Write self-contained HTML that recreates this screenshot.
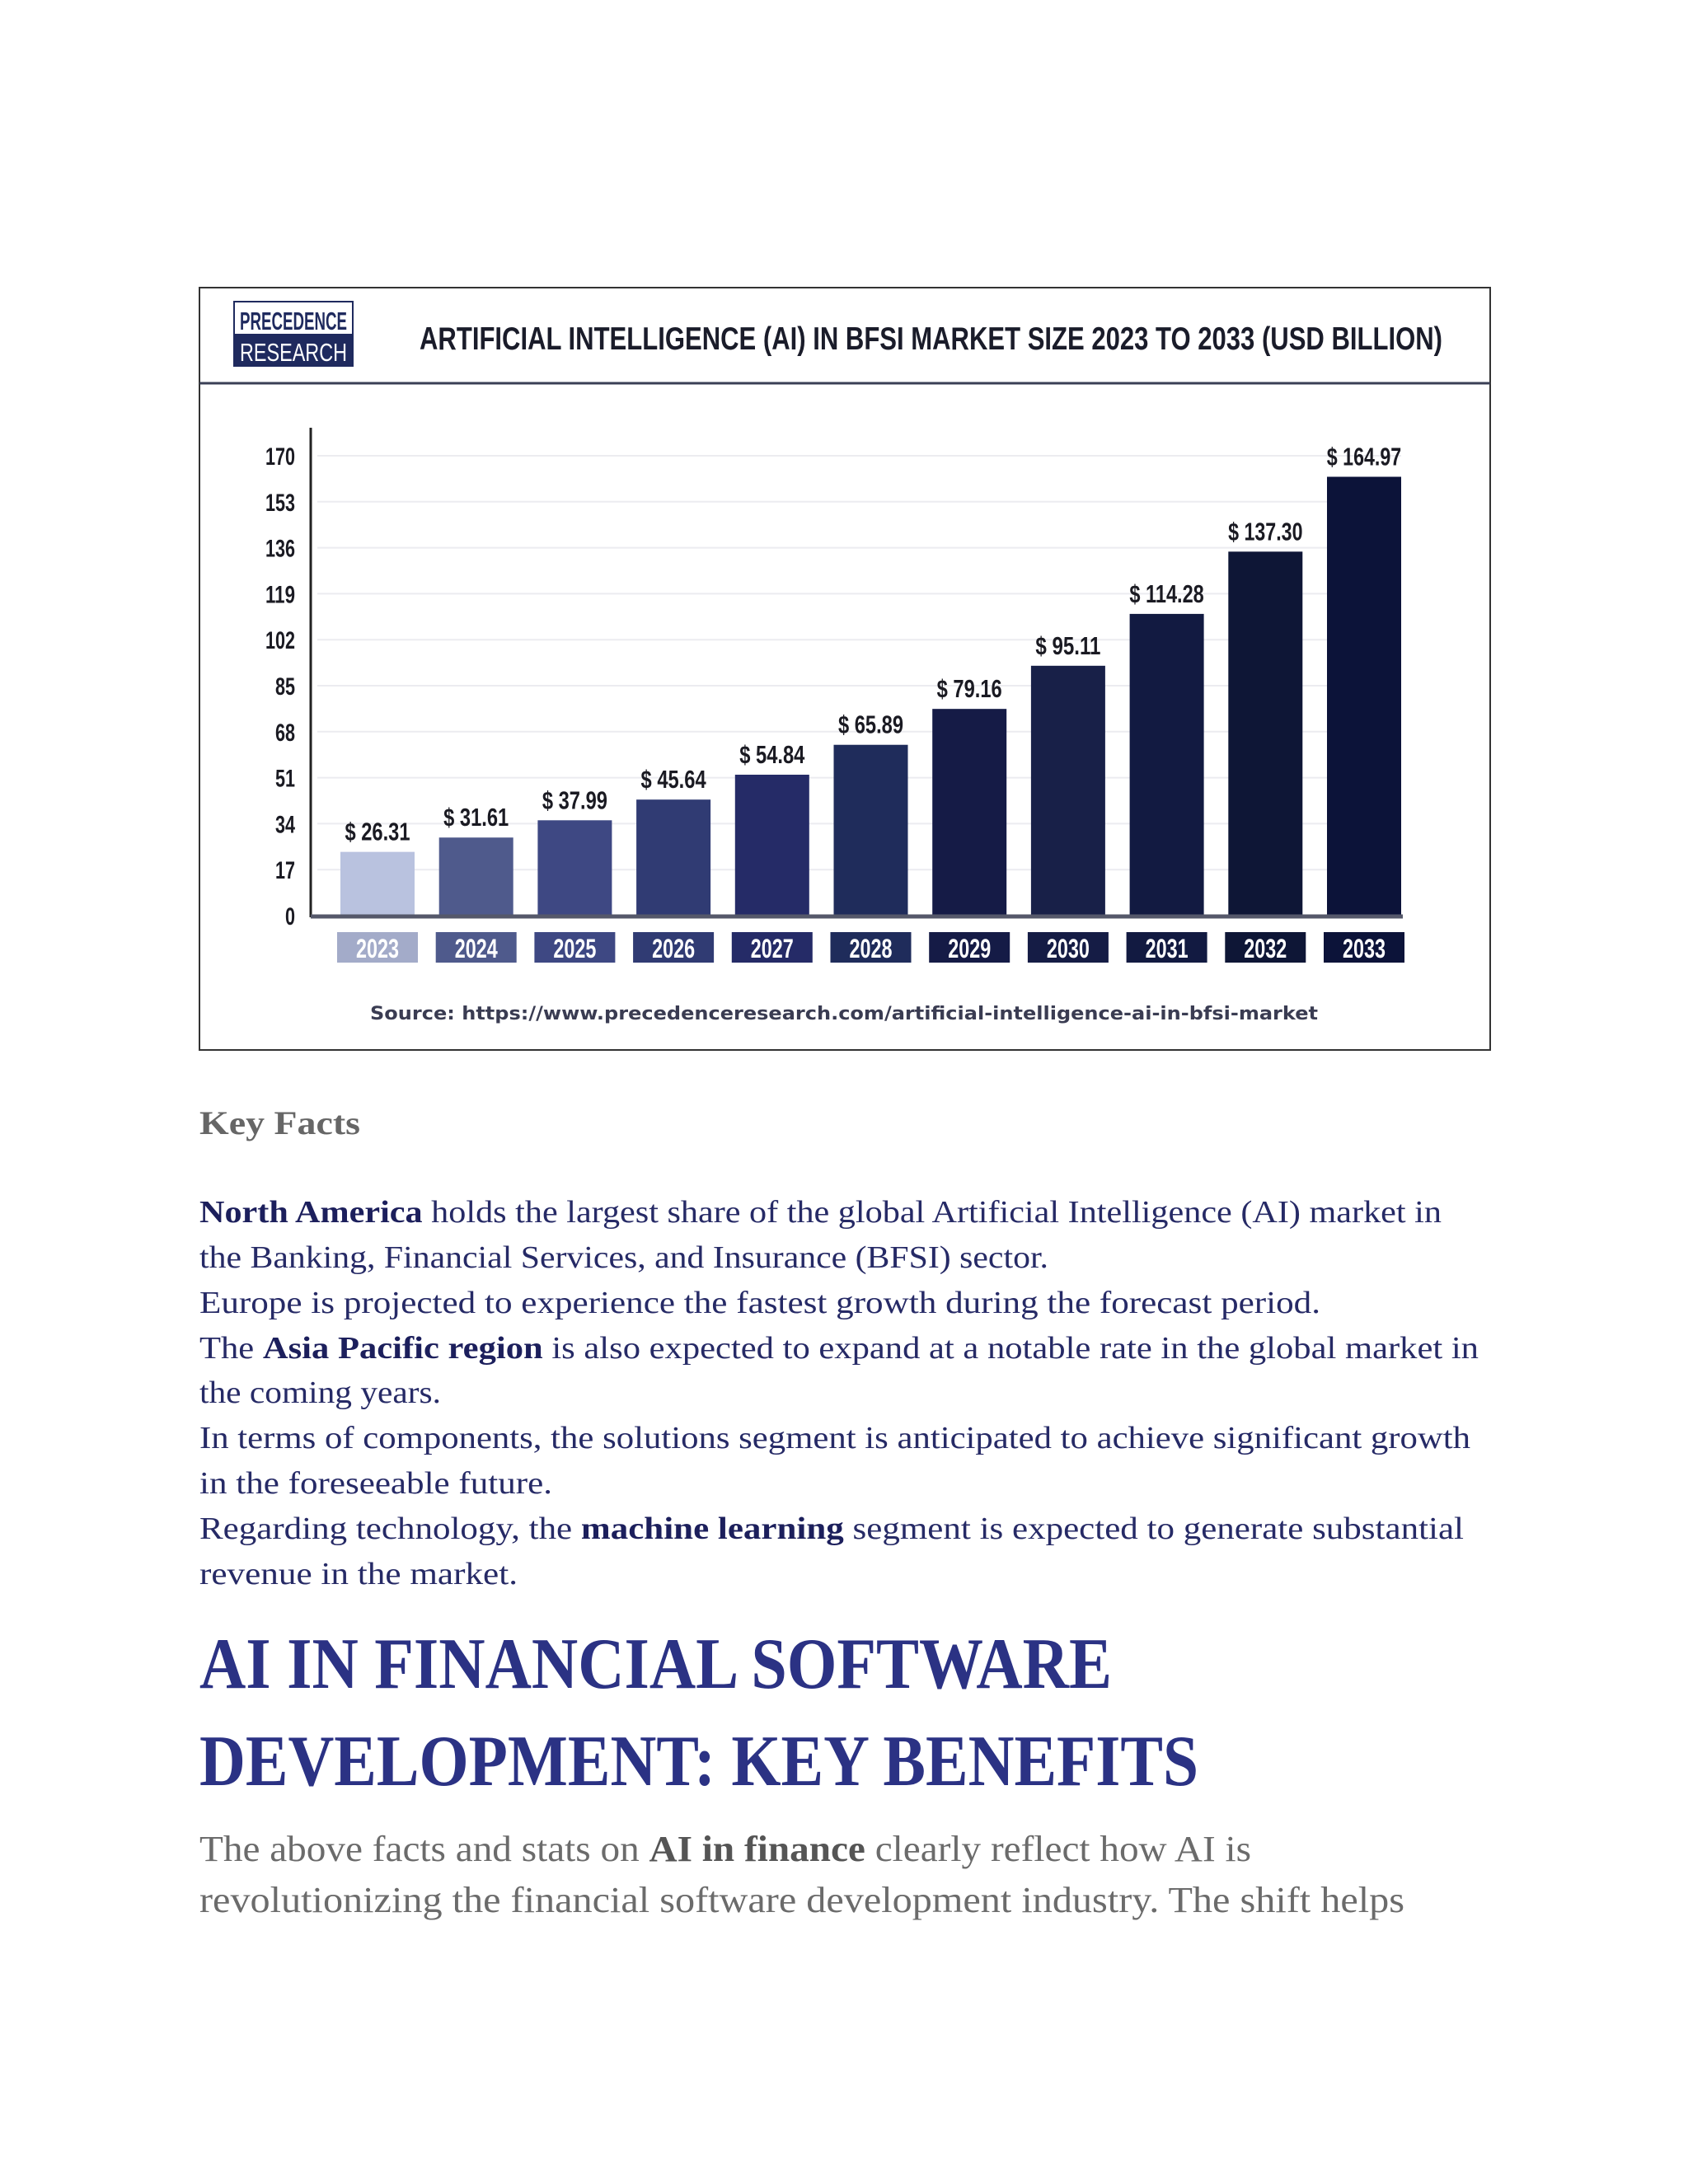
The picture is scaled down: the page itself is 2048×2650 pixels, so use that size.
<!DOCTYPE html>
<html><head><meta charset="utf-8">
<style>
html,body{margin:0;padding:0;background:#fff;}
svg{display:block;}
</style></head>
<body>
<svg id="page" width="2048" height="2650" viewBox="0 0 2048 2650" xmlns="http://www.w3.org/2000/svg">
  <rect x="0" y="0" width="2048" height="2650" fill="#fff"/>
  <g id="chart">
    <rect x="242" y="349" width="1566" height="925" fill="#fff" stroke="#333" stroke-width="2"/>
    <line x1="242" y1="465" x2="1808" y2="465" stroke="#3a3f55" stroke-width="3"/>
    <g>
      <rect x="284" y="366" width="144" height="78" fill="#fff" stroke="#1f2a5e" stroke-width="2"/>
      <rect x="284" y="405" width="144" height="39" fill="#1f2a5e"/>
      <text x="356" y="400" text-anchor="middle" font-family="Liberation Sans, sans-serif" font-weight="bold" font-size="31" fill="#1f2a5e" textLength="130" lengthAdjust="spacingAndGlyphs">PRECEDENCE</text>
      <text x="356" y="438" text-anchor="middle" font-family="Liberation Sans, sans-serif" font-size="31" fill="#fff" textLength="130" lengthAdjust="spacingAndGlyphs">RESEARCH</text>
    </g>
    <text x="509" y="424" font-family="Liberation Sans, sans-serif" font-weight="bold" font-size="39" fill="#1a1c2a" textLength="1241" lengthAdjust="spacingAndGlyphs">ARTIFICIAL INTELLIGENCE (AI) IN BFSI MARKET SIZE 2023 TO 2033 (USD BILLION)</text>
    <g id="plot"></g>
    <text x="1024" y="1237" text-anchor="middle" font-family="DejaVu Sans, sans-serif" font-weight="bold" font-size="22" fill="#3a3c52" textLength="1150" lengthAdjust="spacingAndGlyphs">Source: https://www.precedenceresearch.com/artificial-intelligence-ai-in-bfsi-market</text>
  </g>

  <g font-family="Liberation Serif, serif">
    <text x="242" y="1376" font-weight="bold" font-size="40" fill="#666" textLength="195" lengthAdjust="spacingAndGlyphs">Key Facts</text>
    <g font-size="38" fill="#262a66">
      <text x="242" y="1483" textLength="1507" lengthAdjust="spacingAndGlyphs"><tspan font-weight="bold" fill="#1c1f5c">North America</tspan> holds the largest share of the global Artificial Intelligence (AI) market in</text>
      <text x="242" y="1538" textLength="1030" lengthAdjust="spacingAndGlyphs">the Banking, Financial Services, and Insurance (BFSI) sector.</text>
      <text x="242" y="1593" textLength="1360" lengthAdjust="spacingAndGlyphs">Europe is projected to experience the fastest growth during the forecast period.</text>
      <text x="242" y="1648" textLength="1552" lengthAdjust="spacingAndGlyphs">The <tspan font-weight="bold" fill="#1c1f5c">Asia Pacific region</tspan> is also expected to expand at a notable rate in the global market in</text>
      <text x="242" y="1702" textLength="293" lengthAdjust="spacingAndGlyphs">the coming years.</text>
      <text x="242" y="1757" textLength="1542" lengthAdjust="spacingAndGlyphs">In terms of components, the solutions segment is anticipated to achieve significant growth</text>
      <text x="242" y="1812" textLength="428" lengthAdjust="spacingAndGlyphs">in the foreseeable future.</text>
      <text x="242" y="1867" textLength="1534" lengthAdjust="spacingAndGlyphs">Regarding technology, the <tspan font-weight="bold" fill="#1c1f5c">machine learning</tspan> segment is expected to generate substantial</text>
      <text x="242" y="1922" textLength="386" lengthAdjust="spacingAndGlyphs">revenue in the market.</text>
    </g>
    <g font-weight="bold" font-size="88" fill="#2b3284">
      <text x="242" y="2048" textLength="1107" lengthAdjust="spacingAndGlyphs">AI IN FINANCIAL SOFTWARE</text>
      <text x="242" y="2166" textLength="1212" lengthAdjust="spacingAndGlyphs">DEVELOPMENT: KEY BENEFITS</text>
    </g>
    <g font-size="44" fill="#6b6b6b">
      <text x="242" y="2258" textLength="1276" lengthAdjust="spacingAndGlyphs">The above facts and stats on <tspan font-weight="bold" fill="#555">AI in finance</tspan> clearly reflect how AI is</text>
      <text x="242" y="2320" textLength="1462" lengthAdjust="spacingAndGlyphs">revolutionizing the financial software development industry. The shift helps</text>
    </g>
  </g>
</svg>
<script>
const years = ["2023","2024","2025","2026","2027","2028","2029","2030","2031","2032","2033"];
const values = [26.31,31.61,37.99,45.64,54.84,65.89,79.16,95.11,114.28,137.30,164.97];
const valueLabels = ["$ 26.31","$ 31.61","$ 37.99","$ 45.64","$ 54.84","$ 65.89","$ 79.16","$ 95.11","$ 114.28","$ 137.30","$ 164.97"];
const yTicks = [0,17,34,51,68,85,102,119,136,153,170];
const barColors = ["#b9c2df","#4f5a8c","#3e4883","#303b73","#252b67","#1f2c5b","#151b46","#182048","#121a41","#0e1636","#0c1339"];
const boxColors = ["#a3abc9","#4f5a8c","#3e4883","#303b73","#252b67","#1f2c5b","#151b46","#151c45","#121a41","#0e1636","#0c1339"];

const NS = "http://www.w3.org/2000/svg";
const plot = document.getElementById('plot');
const x0 = 458, dx = 119.7, bw = 90;
const yBase = 1111, yTop = 553, vMax = 170, barShift = 9;
function xScale(i){ return x0 + i*dx; }
function yScale(v){ return yBase - (v/vMax)*(yBase-yTop); }
function mk(tag, attrs){ const e=document.createElementNS(NS,tag); for(const k in attrs) e.setAttribute(k,attrs[k]); plot.appendChild(e); return e; }

yTicks.forEach(t=>{
  const y=yScale(t);
  if(t>0){
    const g=mk('line',{x1:385,x2:1700,y1:y,y2:y,stroke:'#ececf0','stroke-width':2});
    
    
  }
  const lb=mk('text',{x:358,y:y+11,'text-anchor':'end','font-family':'Liberation Sans, sans-serif','font-weight':'bold','font-size':30,fill:'#1a1a22',textLength:String(t).length*12,lengthAdjust:'spacingAndGlyphs'});
  lb.textContent=t;
  
  
});
const ax=mk('line',{x1:377,x2:377,y1:519,y2:1113,stroke:'#222','stroke-width':3});



values.forEach((v,i)=>{
  const cx=xScale(i), y=Math.min(yBase, yScale(v)+barShift);
  const r=mk('rect',{x:cx-bw/2,y:y,width:bw,height:yBase-y,fill:barColors[i]});
  
  
  const t=mk('text',{x:cx,y:y-14,'text-anchor':'middle','font-family':'Liberation Sans, sans-serif','font-weight':'bold','font-size':31,fill:'#1a1a22',textLength:valueLabels[i].length*11.3,lengthAdjust:'spacingAndGlyphs'});
  t.textContent=valueLabels[i];
  
  
  const b=mk('rect',{x:cx-49,y:1131,width:98,height:37,fill:boxColors[i]});
  
  
  const yt=mk('text',{x:cx,y:1162,'text-anchor':'middle','font-family':'Liberation Sans, sans-serif','font-weight':'bold','font-size':32,fill:'#fff',textLength:52,lengthAdjust:'spacingAndGlyphs'});
  yt.textContent=years[i];
  
  
});
const base=mk('line',{x1:377,x2:1702,y1:yBase+1,y2:yBase+1,stroke:'#55586a','stroke-width':5});


</script>
</body></html>
